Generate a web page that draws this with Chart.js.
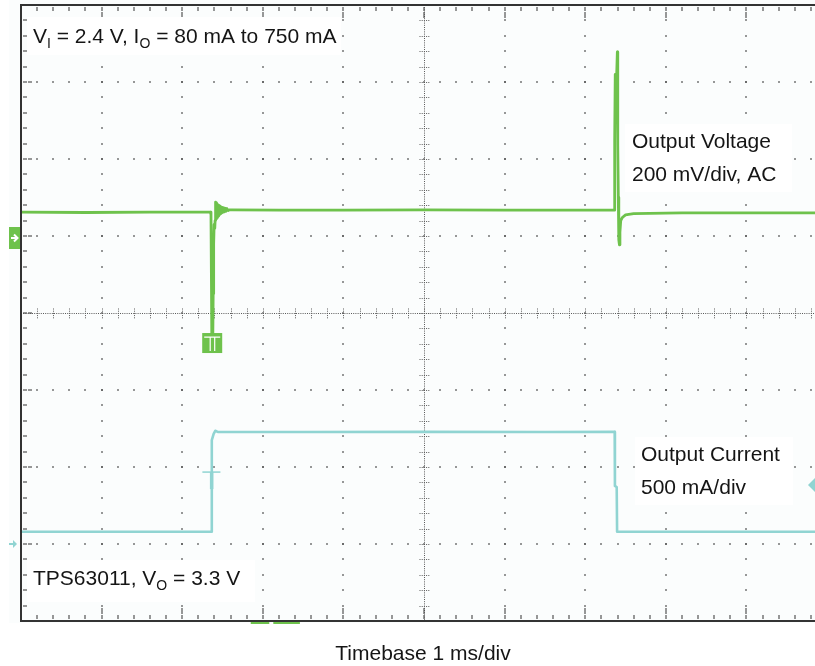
<!DOCTYPE html>
<html><head><meta charset="utf-8">
<script src="https://cdn.jsdelivr.net/npm/chart.js@4.4.1/dist/chart.umd.min.js"></script>
<style>html,body{margin:0;padding:0;background:#fff;}#wrap{width:815px;height:666px;position:relative;}</style>
</head><body><div id="wrap"><canvas id="c" width="815" height="666"></canvas></div>
<script>
// ---- data ----
const voltTimeMs = [0, 0.8, 1.6, 2.3, 2.35, 2.357, 2.362, 2.368, 2.378, 2.384, 2.39, 2.396, 2.404, 2.408,
  2.412, 2.416, 2.420, 2.424, 2.428, 2.432, 2.436, 2.440, 2.444, 2.448, 2.452, 2.456, 2.460, 2.466, 2.472, 2.478, 2.484, 2.490, 2.498, 2.506, 2.514, 2.522, 2.532, 2.542, 2.555, 2.57, 2.59, 2.62,
  3.2, 4.0, 5.0, 6.0, 6.8, 7.36, 7.364, 7.366, 7.372, 7.38, 7.39, 7.398, 7.402, 7.404, 7.41, 7.416, 7.424, 7.43, 7.44, 7.46, 7.5, 7.6, 8.2, 9.0, 9.85];
const voltMv     = [62, 61, 62, 62, 62, 55, -100, -296, -296, -150, -20, 30, 20, 40,
  88, 42, 86, 45, 84, 48, 82, 50, 80, 52, 79, 54, 78, 56, 76, 58, 75, 60, 74, 62, 73, 63, 72, 64, 71, 66, 68, 68,
  67, 67, 68, 67, 67, 67, 67, 250, 420, 400, 420, 478, 300, 236, 100, -10, -23, 10, 40, 48, 55, 58, 60, 60, 60];
const currTimeMs = [0, 1.2, 2.362, 2.366, 2.368, 2.39, 2.41, 2.44, 3.5, 5.0, 6.5, 7.365, 7.368, 7.39, 7.395, 8.5, 9.85];
const currMa     = [80, 80, 80, 80, 675, 715, 735, 728, 727, 728, 727, 728, 377, 370, 80, 80, 80];

const majorTimeMs = [1, 2, 3, 4, 5, 6, 7, 8, 9];
const majorDiv = [1, 2, 3, 4, 5, 6, 7];
const centerTimeMs = 5;
const centerDiv = 4;
const voltMvPerDiv = 200;
const currMaPerDiv = 500;
const voltRefDiv = 5;
const currRefDiv = 1;
const trigLevelMa = 383;
const trigTimeMs = 2.362;
const trigMarkMa = 467;
const voltClipTimeMs = 2.372;
const voltClipMv = -278;
const bottomMarkSpansMs = [[2.85, 3.08], [3.13, 3.46]];

const noteTop = [['V', ''], ['I', 'sub'], [' = 2.4 V, I', ''], ['O', 'sub'], [' = 80 mA to 750 mA', '']];
const noteVolt1 = [['Output Voltage', '']];
const noteVolt2 = [['200 mV/div, AC', '']];
const noteCurr1 = [['Output Current', '']];
const noteCurr2 = [['500 mA/div', '']];
const noteDevice = [['TPS63011, V', ''], ['O', 'sub'], [' = 3.3 V', '']];
const timebaseLabel = 'Timebase 1 ms/div';

const GREEN = '#6ec24c';
const CYAN = '#90d4d2';
const FONT = '"Liberation Sans", Arial, sans-serif';

const voltPts = voltTimeMs.map((t, i) => ({x: t, y: voltMv[i] / voltMvPerDiv + voltRefDiv}));
const currPts = currTimeMs.map((t, i) => ({x: t, y: currMa[i] / currMaPerDiv + currRefDiv}));

function drawRich(ctx, segs, x, y) {
  let cx = x;
  ctx.textBaseline = 'alphabetic';
  ctx.textAlign = 'left';
  for (const [txt, kind] of segs) {
    if (kind === 'sub') { ctx.font = '14px ' + FONT; ctx.fillText(txt, cx, y + 5); }
    else { ctx.font = '21px ' + FONT; ctx.fillText(txt, cx, y); }
    cx += ctx.measureText(txt).width;
  }
}

const scopePlugin = {
  id: 'scope',
  beforeDatasetsDraw(chart) {
    const ctx = chart.ctx, a = chart.chartArea;
    const xs = chart.scales.x, ys = chart.scales.y;
    ctx.save();
    ctx.fillStyle = '#fbfdfd';
    ctx.fillRect(9, 0, 815, a.bottom + 2);
    // grid dots
    ctx.fillStyle = '#4a4a4a';
    const dot = (x, y) => ctx.fillRect(Math.round(x) - 0.75, Math.round(y) - 0.75, 1.5, 1.5);
    for (const t of majorTimeMs) {
      if (t === centerTimeMs) continue;
      const px = xs.getPixelForValue(t);
      for (let k = 1; k < 40; k++) dot(px, ys.getPixelForValue(k * 0.2));
    }
    for (const d of majorDiv) {
      if (d === centerDiv) continue;
      const py = ys.getPixelForValue(d);
      for (let k = 1; k < 50; k++) dot(xs.getPixelForValue(k * 0.2), py);
    }
    // center crosshair
    ctx.strokeStyle = '#5a5a5a';
    ctx.lineWidth = 1;
    ctx.setLineDash([1, 1.2]);
    const cxp = Math.round(xs.getPixelForValue(centerTimeMs)) + 0.5;
    const cyp = Math.round(ys.getPixelForValue(centerDiv)) + 0.5;
    ctx.beginPath();
    ctx.moveTo(cxp, a.top); ctx.lineTo(cxp, a.bottom);
    ctx.moveTo(a.left, cyp); ctx.lineTo(a.right, cyp);
    ctx.stroke();
    ctx.beginPath();
    for (let k = 1; k < 50; k++) {
      const px = Math.round(xs.getPixelForValue(k * 0.2)) + 0.5;
      ctx.moveTo(px, cyp - 5); ctx.lineTo(px, cyp + 5);
    }
    for (let k = 1; k < 40; k++) {
      const py = Math.round(ys.getPixelForValue(k * 0.2)) + 0.5;
      ctx.moveTo(cxp - 5, py); ctx.lineTo(cxp + 5, py);
    }
    ctx.stroke();
    ctx.setLineDash([]);
    // border ticks
    ctx.fillStyle = '#4a4a4a';
    for (let k = 1; k < 50; k++) {
      const px = xs.getPixelForValue(k * 0.2);
      const major = k % 5 === 0;
      const n = major ? 5 : 2;
      for (let j = 1; j <= n; j++) { dot(px, a.top + 1 + j * 2.2); dot(px, a.bottom - 1 - j * 2.2); }
    }
    for (let k = 1; k < 40; k++) {
      const py = ys.getPixelForValue(k * 0.2);
      const major = k % 5 === 0;
      const n = major ? 4 : 2;
      for (let j = 1; j <= n; j++) dot(a.left + 1 + j * 2.2, py);
    }
    // white note boxes
    ctx.fillStyle = '#ffffff';
    ctx.fillRect(27, 17, 314, 38);
    ctx.fillRect(625, 124, 167, 68);
    ctx.fillRect(635, 437, 158, 68);
    ctx.fillRect(27, 560, 228, 42);
    ctx.restore();
  },
  afterDatasetsDraw(chart) {
    const ctx = chart.ctx, a = chart.chartArea;
    const xs = chart.scales.x, ys = chart.scales.y;
    ctx.save();
    // borders
    ctx.fillStyle = '#333333';
    ctx.fillRect(a.left - 1, a.top - 1, 2, a.bottom - a.top + 2);
    ctx.fillRect(a.left - 1, a.top - 1, a.right - a.left + 1, 2);
    ctx.fillRect(a.left - 1, a.bottom - 1, a.right - a.left + 1, 2);
    // bottom green markers
    ctx.fillStyle = GREEN;
    for (const [t0, t1] of bottomMarkSpansMs) {
      const x0 = xs.getPixelForValue(t0), x1 = xs.getPixelForValue(t1);
      ctx.fillRect(x0, a.bottom + 1, x1 - x0, 2);
    }
    // voltage channel marker
    const yV = ys.getPixelForValue(voltRefDiv);
    ctx.fillStyle = GREEN;
    ctx.fillRect(9, yV - 9, 11, 22);
    ctx.strokeStyle = '#ffffff';
    ctx.lineWidth = 2;
    ctx.beginPath();
    ctx.moveTo(11, yV + 2); ctx.lineTo(17, yV + 2);
    ctx.moveTo(14, yV - 1.5); ctx.lineTo(17.5, yV + 2); ctx.lineTo(14, yV + 5.5);
    ctx.stroke();
    // current channel marker
    const yI = ys.getPixelForValue(currRefDiv);
    ctx.fillStyle = CYAN;
    ctx.beginPath();
    ctx.moveTo(9, yI - 1); ctx.lineTo(13, yI - 1); ctx.lineTo(13, yI - 4); ctx.lineTo(17, yI);
    ctx.lineTo(13, yI + 4); ctx.lineTo(13, yI + 1); ctx.lineTo(9, yI + 1); ctx.closePath();
    ctx.fill();
    // trigger level marker (right)
    const yT = ys.getPixelForValue(trigLevelMa / currMaPerDiv + currRefDiv);
    ctx.beginPath();
    ctx.moveTo(808, yT); ctx.lineTo(815, yT - 7); ctx.lineTo(815, yT + 7); ctx.closePath();
    ctx.fill();
    // trigger position T marker
    const xTr = xs.getPixelForValue(trigTimeMs);
    const yTm = ys.getPixelForValue(trigMarkMa / currMaPerDiv + currRefDiv);
    ctx.fillRect(xTr - 9, yTm - 0.75, 18, 1.5);
    ctx.fillRect(xTr - 1.5, yTm, 3.5, 17);
    // voltage clip box marker
    const xC = xs.getPixelForValue(voltClipTimeMs);
    const yC = ys.getPixelForValue(voltClipMv / voltMvPerDiv + voltRefDiv);
    ctx.fillStyle = GREEN;
    ctx.fillRect(xC - 10, yC - 10, 20, 20);
    ctx.strokeStyle = '#ffffff';
    ctx.lineWidth = 1.2;
    ctx.beginPath();
    ctx.moveTo(xC - 8, yC - 6); ctx.lineTo(xC + 8, yC - 6);
    ctx.moveTo(xC - 2, yC - 6); ctx.lineTo(xC - 2, yC + 8);
    ctx.moveTo(xC + 2.5, yC - 6); ctx.lineTo(xC + 2.5, yC + 8);
    ctx.stroke();
    // texts
    ctx.fillStyle = '#151515';
    drawRich(ctx, noteTop, 33, 43);
    drawRich(ctx, noteVolt1, 632, 148);
    drawRich(ctx, noteVolt2, 632, 181);
    drawRich(ctx, noteCurr1, 641, 461);
    drawRich(ctx, noteCurr2, 641, 494);
    drawRich(ctx, noteDevice, 33, 585);
    ctx.font = '21px ' + FONT;
    ctx.textAlign = 'center';
    ctx.fillText(timebaseLabel, 423, 660);
    ctx.restore();
  }
};

new Chart(document.getElementById('c'), {
  type: 'line',
  data: {
    datasets: [
      {label: 'Output Current', data: currPts, borderColor: CYAN, borderWidth: 2.6, borderJoinStyle: 'round', pointRadius: 0, tension: 0, fill: false},
      {label: 'Output Voltage', data: voltPts, borderColor: GREEN, borderWidth: 2.8, borderJoinStyle: 'round', pointRadius: 0, tension: 0, fill: false}
    ]
  },
  options: {
    responsive: false,
    devicePixelRatio: 1,
    animation: false,
    layout: {padding: {left: 21, top: 5, right: 0, bottom: 45}},
    plugins: {legend: {display: false}, tooltip: {enabled: false}},
    scales: {
      x: {type: 'linear', min: 0, max: 9.85, display: false},
      y: {type: 'linear', min: 0, max: 8, display: false}
    }
  },
  plugins: [scopePlugin]
});
</script>
</body></html>
